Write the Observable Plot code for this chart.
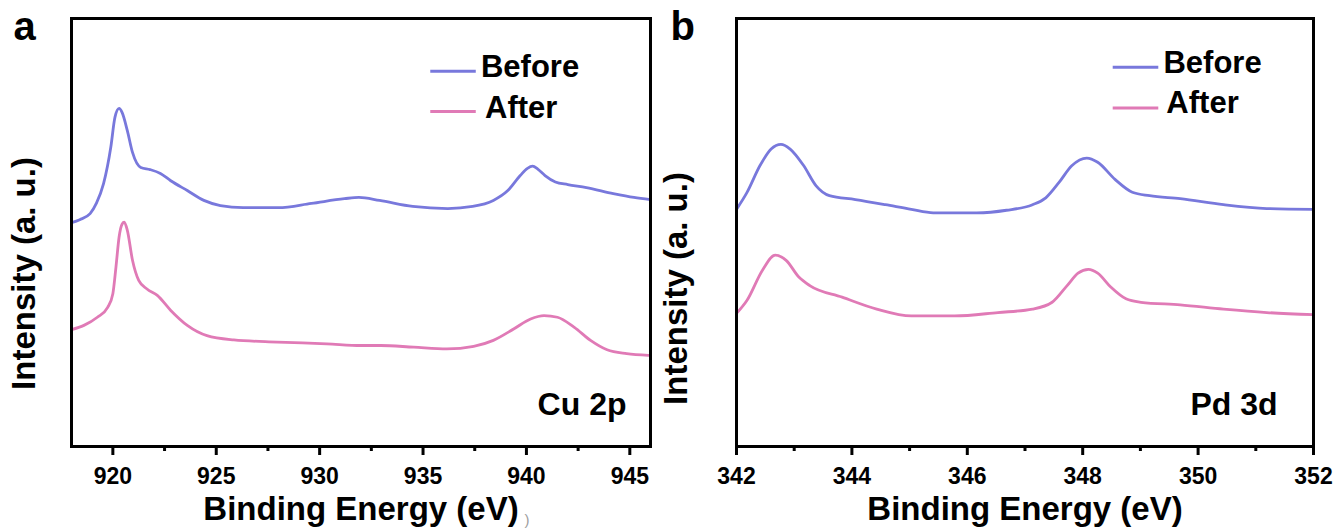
<!DOCTYPE html>
<html><head><meta charset="utf-8">
<script src="https://cdn.jsdelivr.net/npm/d3@7"></script>
<script src="https://cdn.jsdelivr.net/npm/@observablehq/plot@0.6"></script>
<style>
body{margin:0;background:#fff;}
#wrap{display:flex;width:1338px;height:528px;overflow:hidden;}
#wrap svg{overflow:visible;}
</style></head><body><div id="wrap"></div>
<script>
// ---- data ----
const seriesNames = ["Before", "After"];
const seriesColors = ["#7878dc", "#e07ab6"];

const cuBeforeEV = [918.0, 918.4, 918.9, 919.2, 919.55, 919.9, 920.1, 920.3, 920.45, 920.7, 920.95, 921.35, 921.8, 922.3, 922.8, 923.6, 924.4, 925.2, 926.3, 928.0, 929.6, 931.2, 931.9, 932.9, 934.5, 936.2, 937.4, 938.4, 939.1, 939.7, 940.05, 940.3, 940.55, 940.9, 941.4, 942.0, 942.9, 944.2, 945.2, 946.0];
const cuBeforeI  = [52.3, 53.0, 54.4, 56.8, 61.4, 69.9, 76.9, 79.0, 78.0, 73.8, 68.7, 65.2, 64.7, 63.8, 62.1, 59.8, 57.5, 56.3, 55.8, 55.8, 56.8, 57.9, 58.2, 57.5, 56.1, 55.6, 56.1, 57.5, 59.8, 63.3, 65.0, 65.5, 64.8, 63.3, 61.8, 61.2, 60.5, 59.1, 58.2, 57.7];
const cuAfterEV  = [918.0, 918.6, 919.25, 919.75, 920.0, 920.15, 920.3, 920.45, 920.55, 920.7, 920.95, 921.25, 921.65, 922.15, 922.8, 923.6, 924.55, 925.85, 927.95, 930.35, 932.0, 932.95, 934.55, 936.15, 937.45, 938.4, 939.4, 940.2, 940.85, 941.5, 942.3, 943.1, 943.9, 944.85, 945.9];
const cuAfterI   = [27.3, 28.3, 30.2, 32.5, 35.7, 41.9, 48.9, 52.0, 52.4, 50.5, 43.5, 38.8, 36.8, 35.3, 31.8, 28.3, 25.9, 24.9, 24.4, 24.0, 23.6, 23.6, 23.2, 22.8, 23.4, 24.8, 27.5, 29.8, 30.6, 30.2, 27.9, 24.8, 22.6, 21.7, 21.3];

const pdBeforeEV = [342.0, 342.18, 342.41, 342.6, 342.77, 342.93, 343.16, 343.38, 343.61, 344.06, 344.58, 345.03, 345.41, 346.16, 346.68, 347.13, 347.36, 347.59, 347.81, 348.07, 348.26, 348.56, 348.86, 349.16, 349.69, 350.44, 351.19, 352.0];
const pdBeforeI  = [55.4, 59.3, 65.7, 69.5, 70.6, 69.5, 65.7, 60.9, 58.6, 57.7, 56.5, 55.4, 54.6, 54.6, 55.2, 56.5, 58.1, 61.7, 65.6, 67.4, 66.4, 62.4, 59.4, 58.6, 57.9, 56.5, 55.6, 55.4];
const pdAfterEV  = [342.0, 342.18, 342.45, 342.67, 342.86, 343.08, 343.27, 343.83, 344.43, 345.03, 345.78, 346.53, 347.13, 347.47, 347.73, 347.92, 348.1, 348.26, 348.49, 348.75, 349.01, 349.69, 350.44, 351.19, 352.0];
const pdAfterI   = [31.1, 34.1, 41.2, 44.7, 43.5, 39.6, 37.6, 34.9, 32.1, 30.5, 30.5, 31.3, 32.1, 33.7, 37.6, 40.5, 41.4, 40.5, 37.2, 34.5, 33.7, 33.1, 32.1, 31.3, 30.8];

const cuTicks = [920, 925, 930, 935, 940, 945];
const cuMinorTicks = [922.5, 927.5, 932.5, 937.5, 942.5];
const pdTicks = [342, 344, 346, 348, 350, 352];
const pdMinorTicks = [343, 345, 347, 349, 351];

const xTitle = "Binding Energy (eV)";
const yTitle = "Intensity (a. u.)";

// ---- drawing ----
const FONT = '"Liberation Sans", Arial, Helvetica, sans-serif';
const yDomain = [0, 100];

function zip(ev, iv) { return ev.map((e, i) => ({e, v: iv[i]})); }

function panel(o) {
  const before = zip(o.beforeEV, o.beforeI);
  const after = zip(o.afterEV, o.afterI);
  const leg = o.legend;
  return Plot.plot({
    width: o.width, height: 528,
    marginLeft: o.ml, marginRight: o.mr, marginTop: 18, marginBottom: 82,
    style: {fontFamily: FONT, background: "white", color: "black", overflow: "visible"},
    x: {domain: o.xDomain},
    y: {domain: yDomain, axis: null},
    marks: [
      Plot.line(before, {x: "e", y: "v", stroke: seriesColors[0], strokeWidth: 2.8, curve: "monotone-x"}),
      Plot.line(after, {x: "e", y: "v", stroke: seriesColors[1], strokeWidth: 2.8, curve: "monotone-x"}),
      Plot.frame({stroke: "black", strokeWidth: 3}),
      Plot.axisX(o.ticks, {anchor: "bottom", tickSize: 9, tickPadding: 12, strokeWidth: 3, fontSize: 23, fontWeight: "bold", fill: "black", tickFormat: "d", label: null}),
      Plot.axisX(o.minor, {anchor: "bottom", tickSize: 5, strokeWidth: 3, tickFormat: () => "", label: null}),
      // legend
      Plot.link([0], {x1: leg.x1, x2: leg.x2, y1: leg.y[0], y2: leg.y[0], stroke: seriesColors[0], strokeWidth: 3}),
      Plot.link([0], {x1: leg.x1, x2: leg.x2, y1: leg.y[1], y2: leg.y[1], stroke: seriesColors[1], strokeWidth: 3}),
      Plot.text([seriesNames[0]], {x: leg.tx[0], y: leg.ty[0], text: d => d, textAnchor: "start", lineAnchor: "middle", fontSize: 31, fontWeight: "bold", fill: "black"}),
      Plot.text([seriesNames[1]], {x: leg.tx[1], y: leg.ty[1], text: d => d, textAnchor: "start", lineAnchor: "middle", fontSize: 31, fontWeight: "bold", fill: "black"}),
      // element label
      Plot.text([o.tag], {frameAnchor: "bottom-right", text: d => d, dx: o.tagDx, dy: -42, textAnchor: "end", lineAnchor: "middle", fontSize: 32, fontWeight: "bold", fill: "black"}),
      // panel letter
      Plot.text([o.letter], {frameAnchor: "top-left", text: d => d, dx: o.letterDx, dy: -7, textAnchor: "start", lineAnchor: "top", fontSize: 40, fontWeight: "bold", fill: "black"}),
      // axis titles
      Plot.text([xTitle], {frameAnchor: "bottom", text: d => d, dy: 50, textAnchor: "middle", lineAnchor: "top", fontSize: 33, fontWeight: "bold", fill: "black"}),
      Plot.text([yTitle], {frameAnchor: "left", text: d => d, rotate: -90, dx: o.yDx, dy: o.yDy, textAnchor: "middle", lineAnchor: "middle", fontSize: 33, fontWeight: "bold", fill: "black"}),
      ...(o.extra || [])
    ]
  });
}

const wrap = document.getElementById("wrap");
wrap.appendChild(panel({
  width: 660, ml: 71, mr: 10, xDomain: [918, 946],
  ticks: cuTicks, minor: cuMinorTicks,
  beforeEV: cuBeforeEV, beforeI: cuBeforeI, afterEV: cuAfterEV, afterI: cuAfterI,
  legend: {x1: 935.35, x2: 937.55, y: [87.7, 78.3], tx: [937.8, 938.0], ty: [88.6, 79.0]},
  tag: "Cu 2p", tagDx: -24, letter: "a", letterDx: -58, yDx: -47, yDy: 41,
  extra: [Plot.text([")"], {frameAnchor: "bottom", text: d => d, dx: 166, dy: 74, textAnchor: "middle", lineAnchor: "middle", fontSize: 15, fill: "#a0a0a0"})]
}));
wrap.appendChild(panel({
  width: 678, ml: 76, mr: 25, xDomain: [342, 352],
  ticks: pdTicks, minor: pdMinorTicks,
  beforeEV: pdBeforeEV, beforeI: pdBeforeI, afterEV: pdAfterEV, afterI: pdAfterI,
  legend: {x1: 348.52, x2: 349.31, y: [88.6, 79.1], tx: [349.4, 349.45], ty: [89.7, 80.3]},
  tag: "Pd 3d", tagDx: -36, letter: "b", letterDx: -66, yDx: -60, yDy: 56
}));
</script>
</body></html>
